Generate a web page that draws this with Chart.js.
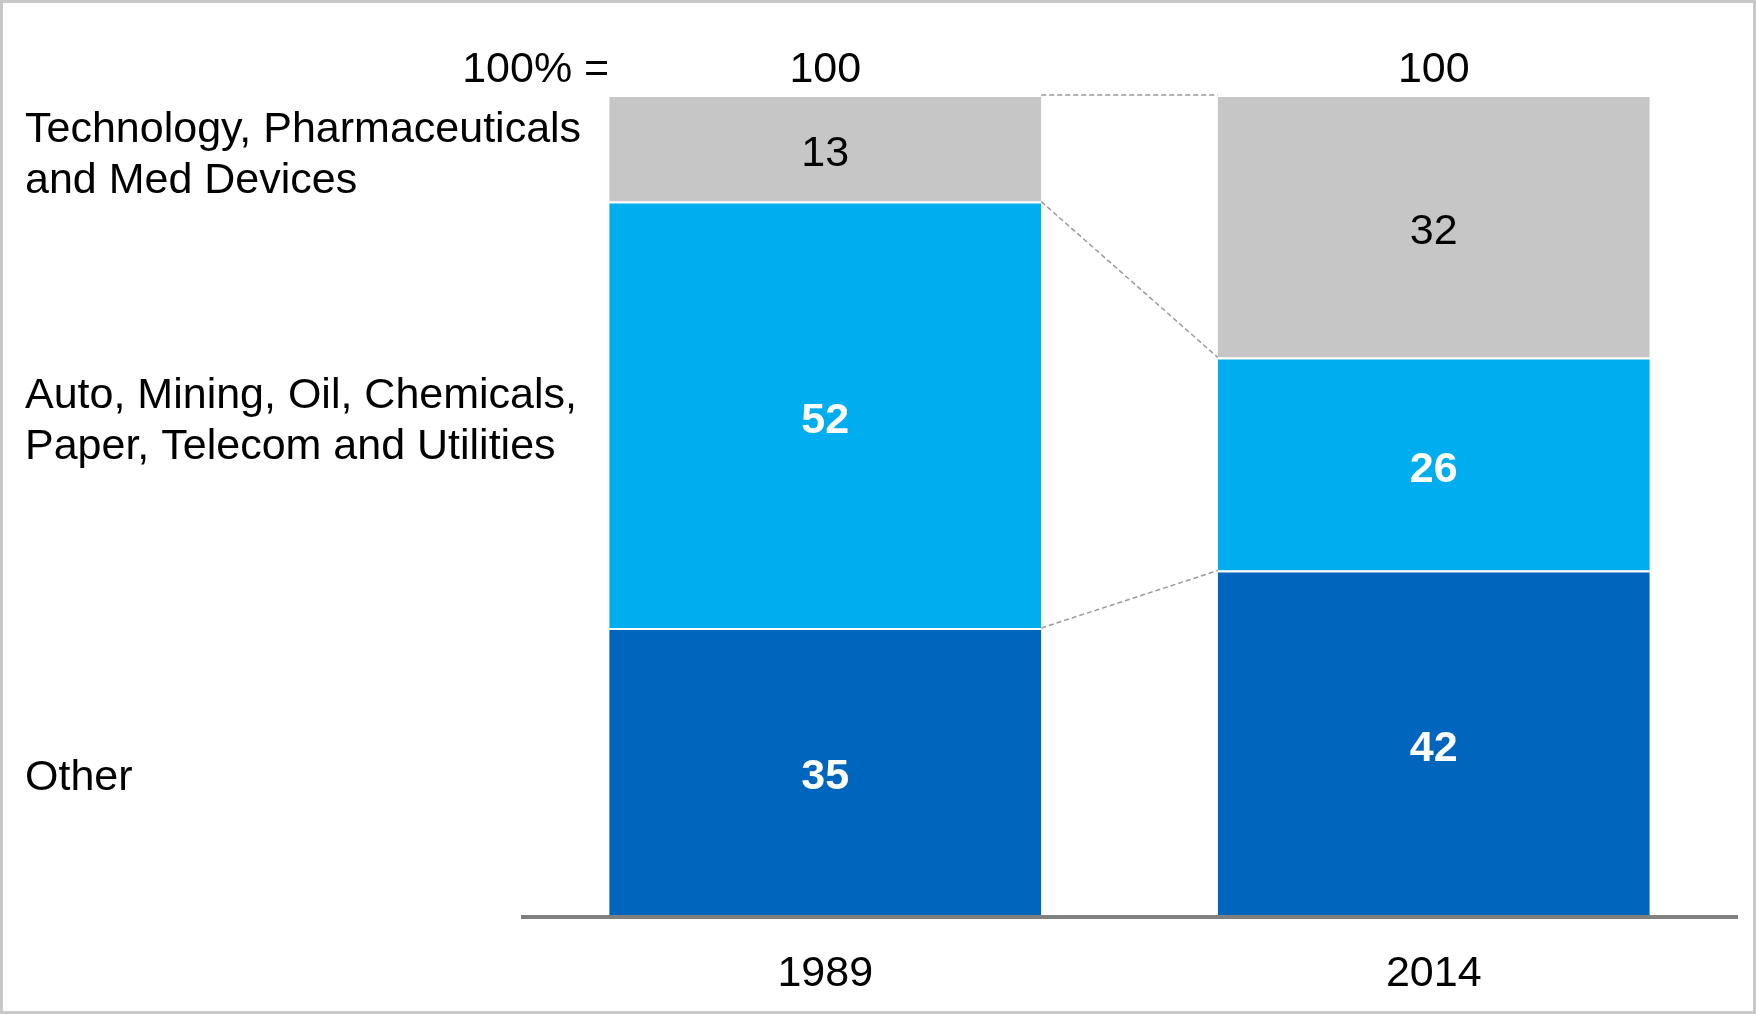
<!DOCTYPE html>
<html>
<head>
<meta charset="utf-8">
<title>Sector mix 1989 vs 2014</title>
<script src="https://cdn.jsdelivr.net/npm/chart.js@4.4.1/dist/chart.umd.min.js"></script>
<style>
  html, body { margin: 0; padding: 0; background: #fff; }
  canvas { display: block; }
</style>
</head>
<body>
<canvas id="chart" width="1756" height="1014"></canvas>
<script>
// Anos e composição (%) de cada coluna
const years = ['1989', '2014'];
const other = [35, 42];
const industrial = [52, 26];
const techPharma = [13, 32];

// Rótulos das faixas (de baixo para cima)
const seriesNames = [
    ['Other'],
    ['Auto, Mining, Oil, Chemicals,', 'Paper, Telecom and Utilities'],
    ['Technology, Pharmaceuticals', 'and Med Devices']
];
const totalLabel = '100% =';

const colors = ['#0065bd', '#00aeef', '#c6c6c6'];
const FONT = "'Liberation Sans', Arial, sans-serif";
const FSIZE = 43;

// Fundo branco e moldura cinza
const framePlugin = {
    id: 'frame',
    beforeDraw(chart) {
        const ctx = chart.ctx;
        ctx.save();
        ctx.fillStyle = '#fff';
        ctx.fillRect(0, 0, chart.width, chart.height);
        ctx.strokeStyle = '#c8c8c8';
        ctx.lineWidth = 3;
        ctx.strokeRect(1.5, 1.5, chart.width - 3, chart.height - 3);
        ctx.restore();
    }
};

// Linhas tracejadas ligando as faixas, eixo, valores e nomes das séries
const annotPlugin = {
    id: 'annot',
    afterDatasetsDraw(chart) {
        const ctx = chart.ctx;
        const area = chart.chartArea;
        const metas = chart.data.datasets.map((d, i) => chart.getDatasetMeta(i));

        ctx.save();

        // conectores entre as colunas
        ctx.strokeStyle = '#9a9a9a';
        ctx.lineWidth = 1.5;
        ctx.setLineDash([5, 3]);
        metas.forEach(meta => {
            const a = meta.data[0];
            const b = meta.data[1];
            ctx.beginPath();
            ctx.moveTo(a.x + a.width / 2, a.y);
            ctx.lineTo(b.x - b.width / 2, b.y);
            ctx.stroke();
        });
        ctx.setLineDash([]);

        // linha do eixo
        ctx.fillStyle = '#808080';
        ctx.fillRect(area.left, area.bottom, area.right - area.left, 4);

        // valores dentro das faixas
        ctx.textAlign = 'center';
        ctx.textBaseline = 'middle';
        metas.forEach((meta, i) => {
            const ds = chart.data.datasets[i];
            meta.data.forEach((bar, j) => {
                const yc = (bar.y + bar.base) / 2;
                if (i === 2) {
                    ctx.font = FSIZE + 'px ' + FONT;
                    ctx.fillStyle = '#000';
                } else {
                    ctx.font = 'bold ' + FSIZE + 'px ' + FONT;
                    ctx.fillStyle = '#fff';
                }
                ctx.fillText(String(ds.data[j]), bar.x, yc + 6);
            });
        });

        // totais acima das colunas
        ctx.font = FSIZE + 'px ' + FONT;
        ctx.fillStyle = '#000';
        const topY = 70;
        years.forEach((y, j) => {
            const sum = chart.data.datasets.reduce((s, d) => s + d.data[j], 0);
            const bar = metas[0].data[j];
            ctx.fillText(String(sum), bar.x, topY);
        });
        ctx.textAlign = 'right';
        ctx.fillText(totalLabel, metas[0].data[0].x - metas[0].data[0].width / 2, topY);

        // nomes das séries à esquerda, alinhados com a primeira coluna
        ctx.textAlign = 'left';
        const lineH = 51;
        metas.forEach((meta, i) => {
            const bar = meta.data[0];
            const yc = (bar.y + bar.base) / 2;
            const lines = seriesNames[i];
            lines.forEach((txt, k) => {
                const y = yc + (k - (lines.length - 1) / 2) * lineH + 7;
                ctx.fillText(txt, 25, y);
            });
        });

        ctx.restore();
    }
};

new Chart(document.getElementById('chart').getContext('2d'), {
    type: 'bar',
    data: {
        labels: years,
        datasets: [
            { label: seriesNames[0].join(' '), data: other, backgroundColor: colors[0] },
            { label: seriesNames[1].join(' '), data: industrial, backgroundColor: colors[1] },
            { label: seriesNames[2].join(' '), data: techPharma, backgroundColor: colors[2] }
        ].map(d => Object.assign(d, {
            borderColor: '#ffffff',
            borderWidth: { top: 2, left: 0, right: 0, bottom: 0 },
            borderSkipped: 'start',
            categoryPercentage: 1,
            barPercentage: 0.71
        }))
    },
    options: {
        responsive: false,
        animation: false,
        layout: { padding: { left: 521, right: 18, top: 95, bottom: 0 } },
        plugins: {
            legend: { display: false },
            tooltip: { enabled: false }
        },
        scales: {
            x: {
                stacked: true,
                grid: { display: false, drawTicks: false },
                border: { display: false },
                ticks: {
                    color: '#000',
                    font: { family: FONT, size: FSIZE },
                    padding: 33,
                    maxRotation: 0
                },
                afterFit(scale) { scale.height = 99; }
            },
            y: {
                stacked: true,
                display: false,
                min: 0,
                max: 100
            }
        }
    },
    plugins: [framePlugin, annotPlugin]
});
</script>
</body>
</html>
